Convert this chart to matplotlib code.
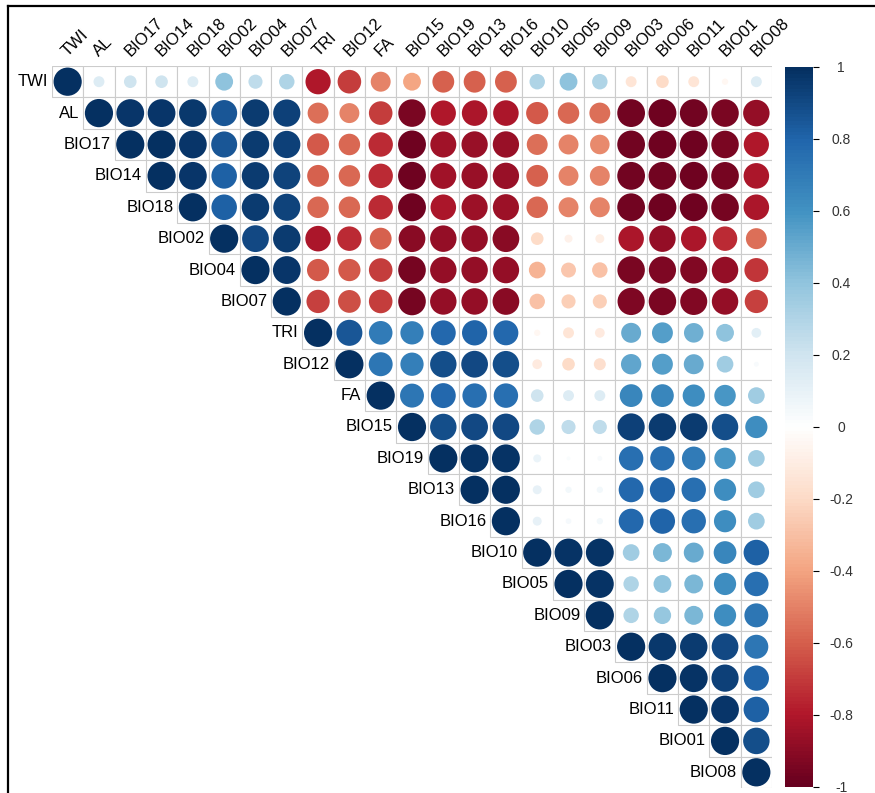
import numpy as np
import matplotlib
matplotlib.use('Agg')
import matplotlib.pyplot as plt
from matplotlib.colors import LinearSegmentedColormap
from matplotlib.patches import Circle, Rectangle
from matplotlib.lines import Line2D

plt.rcParams['font.family'] = ['Liberation Sans', 'DejaVu Sans']

# variable order (hclust order from corrplot)
labels = ['TWI', 'AL', 'BIO17', 'BIO14', 'BIO18', 'BIO02', 'BIO04', 'BIO07',
          'TRI', 'BIO12', 'FA', 'BIO15', 'BIO19', 'BIO13', 'BIO16', 'BIO10',
          'BIO05', 'BIO09', 'BIO03', 'BIO06', 'BIO11', 'BIO01', 'BIO08']

# upper-triangle correlations, each row starts right after the diagonal
r_TWI = [0.15, 0.2, 0.2, 0.15, 0.4, 0.25, 0.3, -0.8, -0.7, -0.5, -0.4, -0.6, -0.6, -0.6,
         0.3, 0.4, 0.3, -0.15, -0.2, -0.15, -0.05, 0.15]
r_AL = [0.97, 0.97, 0.96, 0.85, 0.95, 0.93, -0.55, -0.5, -0.7, -0.95, -0.8, -0.82, -0.82,
        -0.62, -0.58, -0.55, -0.97, -0.98, -0.97, -0.95, -0.88]
r_BIO17 = [0.99, 0.97, 0.85, 0.95, 0.93, -0.62, -0.58, -0.75, -0.98, -0.85, -0.87, -0.87,
           -0.55, -0.5, -0.48, -0.97, -0.98, -0.98, -0.95, -0.8]
r_BIO14 = [0.97, 0.82, 0.95, 0.92, -0.6, -0.58, -0.75, -0.98, -0.85, -0.87, -0.87,
           -0.6, -0.5, -0.5, -0.97, -0.97, -0.98, -0.96, -0.82]
r_BIO18 = [0.82, 0.95, 0.92, -0.58, -0.58, -0.75, -0.98, -0.82, -0.86, -0.86,
           -0.58, -0.5, -0.5, -0.97, -0.98, -0.98, -0.96, -0.82]
r_BIO02 = [0.9, 0.95, -0.82, -0.75, -0.6, -0.9, -0.88, -0.88, -0.9,
           -0.2, -0.08, -0.1, -0.82, -0.88, -0.82, -0.75, -0.55]
r_BIO04 = [0.97, -0.62, -0.62, -0.7, -0.96, -0.88, -0.88, -0.88,
           -0.35, -0.28, -0.3, -0.95, -0.93, -0.92, -0.88, -0.72]
r_BIO07 = [-0.68, -0.65, -0.7, -0.96, -0.88, -0.88, -0.9,
           -0.3, -0.25, -0.25, -0.93, -0.95, -0.92, -0.88, -0.68]
r_TRI = [0.85, 0.7, 0.68, 0.78, 0.8, 0.78, -0.05, -0.15, -0.12, 0.5, 0.55, 0.48, 0.4, 0.12]
r_BIO12 = [0.72, 0.68, 0.88, 0.9, 0.88, -0.12, -0.2, -0.18, 0.52, 0.55, 0.5, 0.35, 0.03]
r_FA = [0.72, 0.78, 0.75, 0.75, 0.2, 0.15, 0.15, 0.65, 0.65, 0.62, 0.58, 0.35]
r_BIO15 = [0.88, 0.9, 0.9, 0.3, 0.25, 0.25, 0.93, 0.95, 0.95, 0.88, 0.62]
r_BIO19 = [0.98, 0.98, 0.08, 0.02, 0.03, 0.75, 0.75, 0.7, 0.58, 0.35]
r_BIO13 = [0.99, 0.1, 0.05, 0.05, 0.78, 0.8, 0.75, 0.62, 0.35]
r_BIO16 = [0.1, 0.04, 0.05, 0.78, 0.8, 0.75, 0.62, 0.35]
r_BIO10 = [0.98, 0.98, 0.35, 0.45, 0.5, 0.65, 0.82]
r_BIO05 = [0.98, 0.3, 0.4, 0.45, 0.62, 0.75]
r_BIO09 = [0.3, 0.38, 0.45, 0.62, 0.72]
r_BIO03 = [0.96, 0.95, 0.9, 0.72]
r_BIO06 = [0.98, 0.93, 0.8]
r_BIO11 = [0.97, 0.82]
r_BIO01 = [0.88]

rows = [r_TWI, r_AL, r_BIO17, r_BIO14, r_BIO18, r_BIO02, r_BIO04, r_BIO07, r_TRI,
        r_BIO12, r_FA, r_BIO15, r_BIO19, r_BIO13, r_BIO16, r_BIO10, r_BIO05, r_BIO09,
        r_BIO03, r_BIO06, r_BIO11, r_BIO01, []]

n = len(labels)
corr = np.eye(n)
for i, vals in enumerate(rows):
    for k, v in enumerate(vals):
        corr[i, i + 1 + k] = v
        corr[i + 1 + k, i] = v

# corrplot's COL2('RdBu')
cmap = LinearSegmentedColormap.from_list('RdBu_corr', [
    '#67001F', '#B2182B', '#D6604D', '#F4A582', '#FDDBC7', '#FFFFFF',
    '#D1E5F0', '#92C5DE', '#4393C3', '#2166AC', '#053061'], N=200)

W, H = 875, 793
fig = plt.figure(figsize=(W / 100, H / 100), dpi=100)

ax = fig.add_axes([52 / W, (H - 788) / H, 720 / W, 722 / H])
ax.set_xlim(-0.5, n - 0.5)
ax.set_ylim(n - 0.5, -0.5)
ax.axis('off')

for i in range(n):
    for j in range(i, n):
        ax.add_patch(Rectangle((j - 0.5, i - 0.5), 1, 1, facecolor='white',
                               edgecolor='#cccccc', lw=0.8, zorder=1))
        r = corr[i, j]
        ax.add_patch(Circle((j, i), 0.45 * np.sqrt(abs(r)),
                            facecolor=cmap((r + 1) / 2), edgecolor='none', zorder=2))

for i, lab in enumerate(labels):
    ax.text(i - 0.62, i, lab, ha='right', va='center', fontsize=12, color='black')
    ax.text(i + 0.08, -0.72, lab, ha='left', va='bottom', rotation=45,
            rotation_mode='anchor', fontsize=12, color='black')

# colour legend
cax = fig.add_axes([785 / W, (H - 787) / H, 28 / W, 720 / H])
grad = np.linspace(-1, 1, 200).reshape(-1, 1)
cax.imshow(grad, cmap=cmap, aspect='auto', origin='lower', extent=(0, 1, -1, 1),
           vmin=-1, vmax=1)
for s in cax.spines.values():
    s.set_visible(False)
cax.set_xticks([])
ticks = np.round(np.linspace(-1, 1, 11), 1)
cax.yaxis.tick_right()
cax.set_yticks(ticks)
cax.set_yticklabels(['%g' % t if t != 0 else '0' for t in ticks])
cax.tick_params(axis='y', length=4.3, width=0.8, pad=16, labelsize=10, labelcolor='#333333')
for t in cax.get_yticklabels():
    t.set_ha('center')

# outer frame (left and top edges)
fig.add_artist(Line2D([8 / W, 8 / W], [0, 1 - 6 / H], color='black', lw=1.6,
                      transform=fig.transFigure))
fig.add_artist(Line2D([8 / W, 1], [1 - 6 / H, 1 - 6 / H], color='black', lw=1.6,
                      transform=fig.transFigure))

fig.savefig('out.png', dpi=100, facecolor='white')
